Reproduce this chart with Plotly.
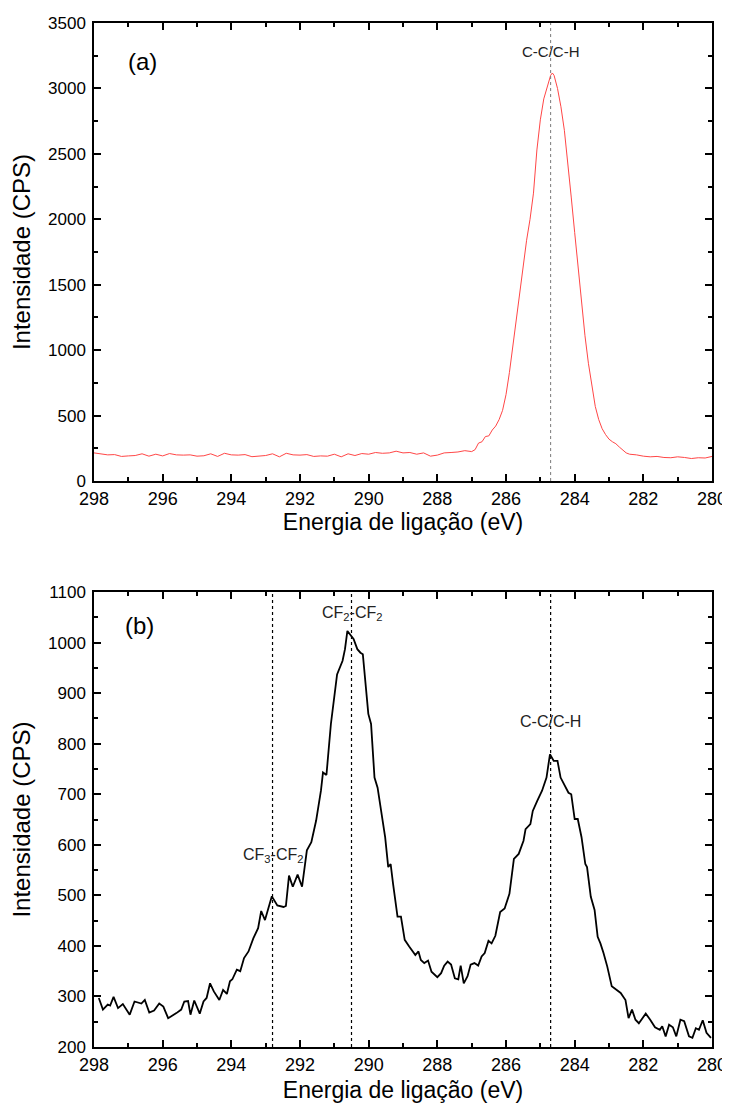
import plotly.graph_objects as go

# ---------------- data ----------------
# Panel (a): binding energy (eV) and intensity (CPS)
E_A = [298.0, 297.8, 297.6, 297.4, 297.2, 297.0, 296.8, 296.6, 296.4, 296.2,
       296.0, 295.8, 295.6, 295.4, 295.2, 295.0, 294.8, 294.6, 294.4, 294.2,
       294.0, 293.8, 293.6, 293.4, 293.2, 293.0, 292.8, 292.6, 292.4, 292.2,
       292.0, 291.8, 291.6, 291.4, 291.2, 291.0, 290.8, 290.6, 290.4, 290.2,
       290.0, 289.8, 289.6, 289.4, 289.2, 289.0, 288.8, 288.6, 288.4, 288.2,
       288.0, 287.8, 287.6, 287.4, 287.2, 287.0, 286.9, 286.8, 286.7, 286.6,
       286.5, 286.4, 286.3, 286.2, 286.1, 286.0, 285.9, 285.8, 285.7, 285.6,
       285.5, 285.4, 285.3, 285.2, 285.1, 285.0, 284.9, 284.8, 284.7, 284.65,
       284.6, 284.5, 284.4, 284.3, 284.2, 284.1, 284.0, 283.9, 283.8, 283.7,
       283.6, 283.5, 283.4, 283.3, 283.2, 283.1, 283.0, 282.9, 282.8, 282.7,
       282.6, 282.5, 282.4, 282.3, 282.2, 282.0, 281.8, 281.6, 281.4, 281.2,
       281.0, 280.8, 280.6, 280.4, 280.2, 280.0]
I_A = [215, 205, 200, 202, 188, 192, 195, 208, 190, 205,
       192, 210, 200, 198, 200, 190, 193, 208, 188, 212,
       200, 198, 202, 186, 192, 195, 208, 185, 212, 200,
       198, 202, 188, 192, 190, 205, 185, 208, 195, 210,
       205, 218, 212, 215, 228, 215, 218, 205, 215, 190,
       198, 215, 218, 222, 232, 225, 240, 290, 300, 340,
       345, 390, 420, 470, 540, 660, 830, 1040, 1240, 1440,
       1640, 1840, 2000, 2200, 2530, 2760, 2920, 3010, 3100, 3118,
       3100, 3000, 2860, 2680, 2450, 2170, 1900, 1640, 1360, 1110,
       900, 720, 570, 470, 400, 355, 320, 300, 285, 260,
       240, 215, 205, 203, 200, 190, 185, 188, 180, 178,
       185, 180, 172, 178, 176, 188]

# Panel (b): binding energy (eV) and intensity (CPS)
E_B = [297.86, 297.74, 297.6, 297.53, 297.43, 297.3, 297.16, 296.96, 296.82, 296.68,
       296.62, 296.52, 296.39, 296.25, 296.1, 295.98, 295.84, 295.6, 295.46, 295.37,
       295.26, 295.19, 295.08, 294.92, 294.81, 294.72, 294.62, 294.51, 294.35, 294.24,
       294.13, 294.04, 293.97, 293.84, 293.74, 293.63, 293.5, 293.36, 293.22, 293.13,
       293.02, 292.82, 292.66, 292.48, 292.41, 292.32, 292.21, 292.07, 291.94, 291.8,
       291.67, 291.53, 291.39, 291.33, 291.23, 291.1, 291.01, 290.92, 290.76, 290.69,
       290.62, 290.44, 290.33, 290.24, 290.17, 290.1, 290.01, 289.93, 289.83, 289.74,
       289.63, 289.52, 289.43, 289.36, 289.29, 289.16, 289.06, 288.95, 288.82, 288.75,
       288.64, 288.55, 288.48, 288.38, 288.27, 288.17, 288.0, 287.89, 287.8, 287.7,
       287.6, 287.49, 287.39, 287.32, 287.23, 287.12, 287.03, 286.92, 286.81, 286.71,
       286.62, 286.51, 286.42, 286.31, 286.17, 286.04, 285.9, 285.77, 285.63, 285.49,
       285.43, 285.29, 285.22, 285.09, 284.95, 284.82, 284.72, 284.61, 284.5, 284.41,
       284.27, 284.18, 284.1, 284.0, 283.91, 283.8, 283.69, 283.64, 283.53, 283.42,
       283.33, 283.25, 283.16, 283.05, 282.92, 282.79, 282.66, 282.52, 282.43, 282.33,
       282.23, 282.13, 281.93, 281.8, 281.66, 281.52, 281.45, 281.35, 281.25, 281.14,
       281.04, 280.92, 280.81, 280.67, 280.57, 280.47, 280.38, 280.27, 280.16, 280.03]
I_B = [297, 274, 284, 282, 299, 277, 285, 264, 290, 288,
       286, 293, 268, 272, 286, 280, 257, 267, 274, 290,
       291, 264, 292, 266, 290, 297, 326, 310, 293, 313,
       305, 330, 334, 353, 350, 376, 389, 415, 435, 469,
       451, 498, 480, 477, 479, 539, 517, 541, 517, 589,
       605, 648, 707, 743, 738, 839, 891, 937, 964, 987,
       1023, 1007, 987, 980, 977, 924, 859, 839, 733, 713,
       667, 615, 556, 562, 523, 458, 458, 412, 399, 392,
       382, 389, 372, 366, 371, 349, 338, 346, 361, 369,
       363, 336, 334, 361, 326, 340, 363, 366, 361, 379,
       386, 410, 405, 420, 467, 474, 503, 572, 582, 608,
       631, 641, 667, 687, 707, 733, 779, 766, 766, 733,
       716, 703, 700, 651, 651, 615, 562, 556, 497, 471,
       418, 405, 386, 359, 320, 313, 307, 293, 257, 274,
       254, 247, 266, 254, 239, 234, 241, 221, 244, 239,
       221, 254, 251, 221, 218, 237, 234, 253, 228, 218]

# Reference peak positions (eV) and their labels
REF_A = [284.7]
LABELS_A = ["C-C/C-H"]
LABEL_I_A = [3280]
REF_B = [292.8, 290.5, 284.7]
LABELS_B = ["CF<sub>3</sub>-CF<sub>2</sub>", "CF<sub>2</sub>-CF<sub>2</sub>", "C-C/C-H"]
LABEL_I_B = [578, 1058, 843]

X_RANGE = [298, 280]
Y_RANGE_A = [0, 3500]
Y_RANGE_B = [200, 1100]

# ---------------- figure ----------------
FONT = "Liberation Sans, Arial, sans-serif"

fig = go.Figure()
fig.add_trace(go.Scatter(x=E_A, y=I_A, mode="lines", xaxis="x", yaxis="y",
                         line=dict(color="rgb(255,70,70)", width=1), showlegend=False))
fig.add_trace(go.Scatter(x=E_B, y=I_B, mode="lines", xaxis="x2", yaxis="y2",
                         line=dict(color="black", width=1.8), showlegend=False))


def xaxis_style(anchor, standoff):
    return dict(
        anchor=anchor, domain=[0, 1], range=X_RANGE, automargin=False,
        tickmode="linear", tick0=280, dtick=2,
        ticks="inside", ticklen=7, tickwidth=1.5, tickcolor="black",
        minor=dict(ticks="inside", ticklen=4, tickwidth=1.5, tickcolor="black",
                   tick0=280, dtick=1, showgrid=False),
        showline=True, linecolor="black", linewidth=1.5, mirror="ticks",
        showgrid=False, zeroline=False, ticklabelstandoff=1,
        tickfont=dict(family=FONT, size=18, color="black"),
        title=dict(text="Energia de ligação (eV)", standoff=standoff,
                   font=dict(family=FONT, size=23, color="black")),
    )


def yaxis_style(anchor, domain, rng, dtick, minor_dtick):
    return dict(
        anchor=anchor, domain=domain, range=rng, automargin=False,
        tickmode="linear", tick0=rng[0], dtick=dtick,
        ticks="inside", ticklen=7, tickwidth=1.5, tickcolor="black",
        minor=dict(ticks="inside", ticklen=4, tickwidth=1.5, tickcolor="black",
                   tick0=rng[0], dtick=minor_dtick, showgrid=False),
        showline=True, linecolor="black", linewidth=1.5, mirror="ticks",
        showgrid=False, zeroline=False, ticklabelstandoff=3,
        tickfont=dict(family=FONT, size=17, color="black"),
        title=dict(text="Intensidade (CPS)", standoff=14,
                   font=dict(family=FONT, size=24, color="black")),
    )


shapes = []
annotations = []
for e, lab, yi in zip(REF_A, LABELS_A, LABEL_I_A):
    shapes.append(dict(type="line", xref="x", yref="y domain", x0=e, x1=e, y0=0, y1=1,
                       line=dict(color="rgb(120,120,120)", width=1, dash="dot")))
    annotations.append(dict(x=e, y=yi, xref="x", yref="y", text=lab, showarrow=False,
                            font=dict(family=FONT, size=15, color="#222")))
for e, lab, yi in zip(REF_B, LABELS_B, LABEL_I_B):
    shapes.append(dict(type="line", xref="x2", yref="y2 domain", x0=e, x1=e, y0=0, y1=1,
                       line=dict(color="black", width=1.2, dash="dot")))
    annotations.append(dict(x=e, y=yi, xref="x2", yref="y2", text=lab, showarrow=False,
                            font=dict(family=FONT, size=16, color="#222")))

annotations.append(dict(x=0.078, y=0.915, xref="x domain", yref="y domain", text="(a)",
                        xanchor="center", yanchor="middle",
                        showarrow=False, font=dict(family=FONT, size=24, color="black")))
annotations.append(dict(x=0.074, y=0.927, xref="x2 domain", yref="y2 domain", text="(b)",
                        xanchor="center", yanchor="middle",
                        showarrow=False, font=dict(family=FONT, size=24, color="black")))

# The page body adds an 8 px offset; margins compensate for it.
fig.update_layout(
    width=730, height=1104,
    margin=dict(l=86, r=26, t=15, b=65),
    paper_bgcolor="white", plot_bgcolor="white",
    font=dict(family=FONT, color="black"),
    xaxis=xaxis_style("y", 2),
    yaxis=yaxis_style("x", [0.5527, 1.0], Y_RANGE_A, 500, 250),
    xaxis2=xaxis_style("y2", 8),
    yaxis2=yaxis_style("x2", [0.0, 0.4443], Y_RANGE_B, 100, 50),
    shapes=shapes,
    annotations=annotations,
    showlegend=False,
)

fig.write_html("out.html")
